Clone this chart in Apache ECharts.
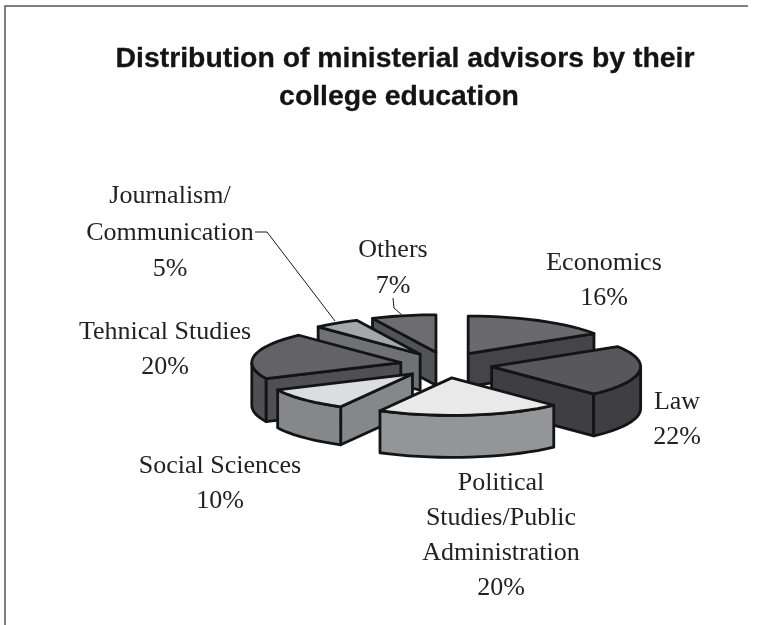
<!DOCTYPE html>
<html>
<head>
<meta charset="utf-8">
<style>html,body{margin:0;padding:0;background:#fff}#c{width:766px;height:625px}</style>
<script src="https://cdn.jsdelivr.net/npm/echarts@6/dist/echarts.min.js"></script>
</head>
<body>
<div id="c"></div>
<script>
const categories = ['Economics','Law','Political Studies/Public Administration','Social Sciences','Tehnical Studies','Journalism/Communication','Others'];
const shares = [16,22,20,10,20,5,7];
const topColors = ['#6a6a6c','#58585a','#e8e9e8','#dcddde','#636365','#a6a7a9','#6d6d6f'];
const sideColors = ['#454547','#3f3f41','#949596','#868788','#505052','#707173','#525355'];
const sliceDepths = [33,42,42,38,43,36,33];
const titleLines = ['Distribution of ministerial advisors by their','college education'];
const titleAnchors = [[405,59],[399,97]];
const labelTexts = ['Economics\n16%','Law\n22%','Political\nStudies/Public\nAdministration\n20%','Social Sciences\n10%','Tehnical Studies\n20%','Journalism/\nCommunication\n5%','Others\n7%'];
const labelAnchors = [[604,246],[677,385],[501,466],[220,449],[165,315],[170,178],[393,232]];
const labelLineHeights = [35,35,35,35,35,36.5,36];

const PIE = {cx:446, cy:365, rx:149, ry:37.5, ex:46, ey:13};
const total = shares.reduce((a,b)=>a+b,0);
const rad = d => d*Math.PI/180;

let acc = 0;
const slices = shares.map((v,i)=>{
  const a = acc/total*360; acc += v; const b = acc/total*360; const m = (a+b)/2;
  return {i, a, b, ax:PIE.cx+PIE.ex*Math.sin(rad(m)), ay:PIE.cy-PIE.ey*Math.cos(rad(m))};
});
const order = slices.slice().sort((p,q)=>p.ay-q.ay);
const rimPoint = (s,t)=>[s.ax+PIE.rx*Math.sin(rad(t)), s.ay-PIE.ry*Math.cos(rad(t))];

function renderSlice(params, api){
  const s = slices[api.value(0)];
  const drop = p => [p[0], p[1]+sliceDepths[s.i]];
  const stroke = {stroke:'#141414', lineWidth:2.8, lineJoin:'round'};
  const poly = (pts,fill)=>({type:'polygon', shape:{points:pts}, style:Object.assign({fill},stroke)});
  const children = [];
  const apex=[s.ax,s.ay];
  const ps=rimPoint(s,s.a), pe=rimPoint(s,s.b);
  const side=sideColors[s.i], top=topColors[s.i];
  if(Math.sin(rad(s.b))>0.001) children.push(poly([apex,pe,drop(pe),drop(apex)],side));
  if(Math.sin(rad(s.a))<-0.001) children.push(poly([apex,ps,drop(ps),drop(apex)],side));
  const f=Math.max(s.a,90), g=Math.min(s.b,270);
  if(g>f){
    const up=[],dn=[];
    for(let t=f;;t+=4){const tt=Math.min(t,g);const p=rimPoint(s,tt);up.push(p);dn.unshift(drop(p));if(tt>=g)break;}
    children.push(poly(up.concat(dn),side));
  }
  const face=[apex];
  for(let t=s.a;;t+=4){const tt=Math.min(t,s.b);face.push(rimPoint(s,tt));if(tt>=s.b)break;}
  children.push(poly(face,top));
  return {type:'group',children};
}

const chart = echarts.init(document.getElementById('c'),null,{renderer:'canvas'});
const serif = '"Liberation Serif"';
const graphic = [
  {type:'polyline',shape:{points:[[5,625],[5,6],[748,6]]},style:{stroke:'#555',lineWidth:1.5,fill:null},silent:true},
  {type:'polyline',shape:{points:[[255,232],[267,232],[335,321]]},style:{stroke:'#1a1a1a',lineWidth:1,fill:null},z:5,silent:true},
  {type:'polyline',shape:{points:[[393,298],[394,308],[402,315]]},style:{stroke:'#1a1a1a',lineWidth:1,fill:null},z:5,silent:true}
];
titleLines.forEach((t,i)=>graphic.push({type:'text',x:titleAnchors[i][0],y:titleAnchors[i][1],silent:true,style:{text:t,fill:'#141414',font:'bold 28.4px "Liberation Sans"',align:'center',verticalAlign:'middle',stroke:'#141414',lineWidth:0.3}}));
labelTexts.forEach((t,i)=>graphic.push({type:'text',x:labelAnchors[i][0],y:labelAnchors[i][1],silent:true,style:{text:t,fill:'#222',font:'26px '+serif,align:'center',verticalAlign:'top',lineHeight:labelLineHeights[i]}}));

chart.setOption({
  animation:false,
  backgroundColor:'#fff',
  graphic:graphic,
  series:[{type:'custom',coordinateSystem:'none',renderItem:renderSlice,data:order.map(s=>[s.i,shares[s.i]]),z:2,silent:true}]
});
</script>
</body>
</html>
